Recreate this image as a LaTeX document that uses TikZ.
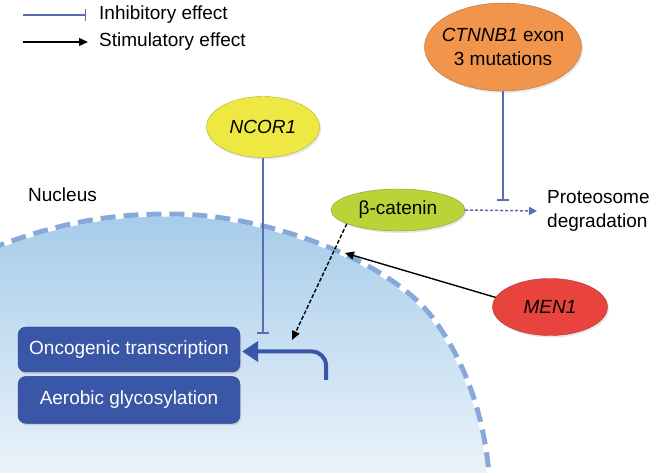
\documentclass[tikz,border=0pt]{standalone}
\usepackage{fontspec}
\setmainfont{Liberation Sans}
\usetikzlibrary{arrows.meta,positioning,shapes.geometric,shadows}

\definecolor{inhblue}{HTML}{5A6DB4}
\definecolor{boxblue}{HTML}{3A56A6}
\definecolor{nucdash}{HTML}{86A9D9}
\definecolor{nuctop}{HTML}{A6CCEA}
\definecolor{nucbot}{HTML}{EFF5FB}
\definecolor{ncoryellow}{HTML}{EEE843}
\definecolor{ctnorange}{HTML}{F2954C}
\definecolor{catgreen}{HTML}{B8D436}
\definecolor{menred}{HTML}{E8433C}

\newcommand{\nucrim}{(-10,249) .. controls (50,226) and (100,214) .. (170,214)
  .. controls (270,214) and (390,262) .. (432,317)
  .. controls (465,360) and (487,420) .. (490,490)}

\tikzset{
  every node/.style={font=\fontsize{19}{24}\selectfont},
  plain/.style={anchor=west, inner sep=0pt},
  gene/.style={ellipse, draw=#1!75!black, fill=#1, inner sep=0pt,
    drop shadow={opacity=0.2, shadow xshift=1.5pt, shadow yshift=-2pt}},
  procbox/.style={rectangle, rounded corners=8pt, draw=boxblue!80!black, fill=boxblue,
    text=white, inner sep=0pt, drop shadow={opacity=0.25, shadow xshift=1pt, shadow yshift=-2pt}},
  inhib/.style={draw=inhblue, line width=1.5pt, -{Bar[width=12pt]}},
  stim/.style={draw=black, line width=1.4pt, -{Triangle[length=9pt,width=8pt]}},
  stimdash/.style={stim, dash pattern=on 4pt off 2pt},
  degr/.style={draw=inhblue, line width=1.5pt, dash pattern=on 3pt off 2pt,
    -{Triangle[length=8pt,width=8pt]}},
  tss/.style={draw=boxblue, line width=4pt, rounded corners=14pt,
    -{Triangle[length=16pt,width=20pt]}}
}

\begin{document}
\begin{tikzpicture}[x=1pt,y=-1pt]
    \useasboundingbox (0,0) rectangle (654,473);

    % nucleus
    \begin{scope}
        \clip (0,0) rectangle (654,473);
        \fill[top color=nuctop, bottom color=nucbot] \nucrim -- (-10,490) -- cycle;
        \draw[white, line width=5pt] \nucrim;
        \draw[nucdash, line width=5pt, dash pattern=on 15pt off 8pt] \nucrim;
    \end{scope}
    \node[plain] (nuclab) at (28,195) {Nucleus};

    % legend
    \coordinate (legA) at (23,15);
    \coordinate (legB) at (86,15);
    \coordinate (legC) at (23,42);
    \coordinate (legD) at (88,42);
    \draw[inhib] (legA) -- (legB);
    \draw[stim] (legC) -- (legD);
    \node[plain] (inhtxt) at (99,15) {Inhibitory effect};
    \node[plain] (stimtxt) at (99,42) {Stimulatory effect};

    % genes
    \node[gene=ncoryellow, minimum width=113pt, minimum height=61pt] (ncor) at (263,127) {\textit{NCOR1}};
    \node[gene=ctnorange, minimum width=157pt, minimum height=88pt, align=center, inner xsep=-10pt] (ctnnb) at (503,47) {\textit{CTNNB1} exon\\3 mutations};
    \node[gene=catgreen, minimum width=134pt, minimum height=42pt] (beta) at (398,210) {β-catenin};
    \node[gene=menred, minimum width=115pt, minimum height=57pt] (men) at (550,307) {\textit{MEN1}};
    \node[plain, align=left] (prot) at (547,211) {Proteosome\\degradation};

    % boxes
    \node[procbox, minimum width=222pt, minimum height=45pt] (onco) at (129,349.5) {Oncogenic transcription};
    \node[procbox, minimum width=222pt, minimum height=47pt, below=4pt of onco] (aero) {Aerobic glycosylation};

    % connectors
    \coordinate (ncorEnd) at (263,334);
    \coordinate (ctnEnd) at (503,201);
    \coordinate (menEnd) at (345,253);
    \coordinate (betaEnd) at (292,340);
    \coordinate (tssStart) at (326,380);
    \draw[inhib] (ncor.south) -- (ncorEnd);
    \draw[inhib] (ctnnb.south) -- (ctnEnd);
    \draw[degr] (beta.east) -- ([xshift=-10pt]prot.west);
    \draw[stim] (men.170) -- (menEnd);
    \draw[stimdash] (beta.195) -- (betaEnd);
    \draw[tss] (tssStart) |- ([xshift=2pt, yshift=-2pt]onco.east);
\end{tikzpicture}
\end{document}
